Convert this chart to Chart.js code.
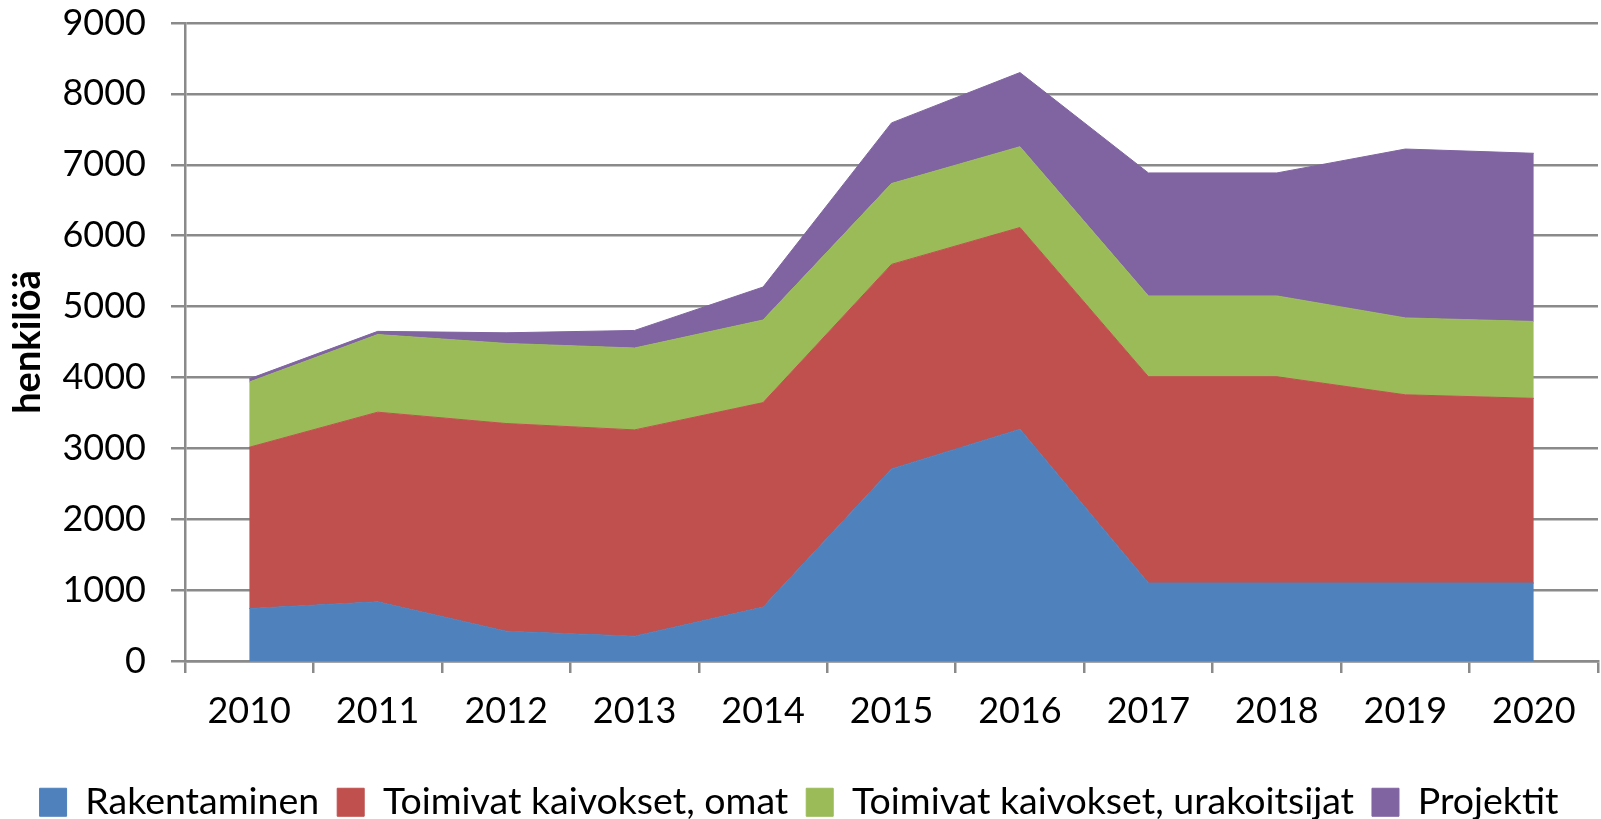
<!DOCTYPE html>
<html>
<head>
<meta charset="utf-8">
<script src="https://cdn.jsdelivr.net/npm/chart.js@4.4.0/dist/chart.umd.min.js"></script>
<style>
  html, body { margin: 0; padding: 0; background: #fff; }
</style>
</head>
<body>
<canvas id="myChart" width="1601" height="819"></canvas>
<script>
// data
const years = ['2010', '2011', '2012', '2013', '2014', '2015', '2016', '2017', '2018', '2019', '2020'];
const rakentaminen = [740, 835, 420, 350, 760, 2710, 3270, 1100, 1100, 1100, 1100];
const kaivoksetOmat = [2275, 2675, 2930, 2910, 2885, 2885, 2845, 2910, 2910, 2655, 2605];
const kaivoksetUrakoitsijat = [920, 1095, 1130, 1155, 1165, 1140, 1140, 1140, 1140, 1085, 1085];
const projektit = [45, 45, 150, 248, 465, 856, 1046, 1735, 1735, 2382, 2372];
const yMin = 0;
const yMax = 9000;
const yStep = 1000;

const gridColor = '#8a8a8a';
const fontFamily = 'Lato, Carlito, "Open Sans", sans-serif';

function area(label, data, color, fill) {
  return {
    label: label,
    data: data,
    backgroundColor: color,
    borderColor: color,
    borderWidth: 1,
    pointRadius: 0,
    tension: 0,
    fill: fill
  };
}

const ctx = document.getElementById('myChart').getContext('2d');
new Chart(ctx, {
  type: 'line',
  data: {
    labels: years,
    datasets: [
      area('Rakentaminen', rakentaminen, '#4F81BD', 'origin'),
      area('Toimivat kaivokset, omat', kaivoksetOmat, '#C0504D', '-1'),
      area('Toimivat kaivokset, urakoitsijat', kaivoksetUrakoitsijat, '#9BBB59', '-1'),
      area('Projektit', projektit, '#8064A2', '-1')
    ]
  },
  options: {
    responsive: false,
    animation: false,
    devicePixelRatio: 1,
    layout: {
      // negative bottom pushes the legend down to the canvas edge
      padding: { top: 23, right: 3, bottom: -12, left: 0 }
    },
    plugins: {
      tooltip: { enabled: false },
      legend: {
        position: 'bottom',
        labels: {
          font: { family: fontFamily, size: 37.5 },
          color: '#000',
          boxWidth: 27,
          boxHeight: 28,
          padding: 18
        }
      }
    },
    scales: {
      x: {
        offset: true,
        grid: {
          offset: true,
          drawOnChartArea: false,
          color: gridColor,
          lineWidth: 2.5,
          tickLength: 12
        },
        border: { color: gridColor, width: 2.5 },
        ticks: {
          font: { family: fontFamily, size: 36 },
          color: '#000',
          padding: 17,
          maxRotation: 0
        },
        afterFit: function (scale) {
          scale.height = 104.5;
        }
      },
      y: {
        stacked: true,
        min: yMin,
        max: yMax,
        ticks: {
          stepSize: yStep,
          font: { family: fontFamily, size: 36 },
          color: '#000',
          padding: 25,
          callback: function (value) { return String(value); }
        },
        grid: {
          color: gridColor,
          lineWidth: 2.5,
          tickLength: 14
        },
        border: { color: gridColor, width: 2.5 },
        title: {
          display: true,
          text: 'henkilöä',
          font: { family: fontFamily, size: 38, weight: 'bold' },
          color: '#000',
          padding: { top: 5, bottom: 0 }
        },
        afterFit: function (scale) {
          scale.width = 185;
          // tick padding would otherwise be added above the top label
          scale.paddingTop = 0;
          scale.paddingBottom = 0;
        }
      }
    }
  }
});
</script>
</body>
</html>
